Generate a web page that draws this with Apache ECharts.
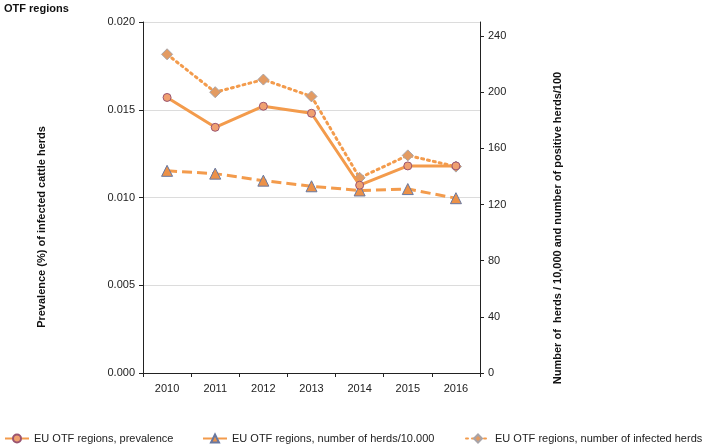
<!DOCTYPE html>
<html>
<head>
<meta charset="utf-8">
<script src="https://cdn.jsdelivr.net/npm/echarts@6/dist/echarts.min.js"></script>
<style>
body{margin:0;background:#fff}
#chart{width:709px;height:447px}
</style>
</head>
<body>
<div id="chart"></div>
<script>
let years = ["2010","2011","2012","2013","2014","2015","2016"]

// prevalence (%), left axis
let prevalence = [0.0157, 0.0140, 0.0152, 0.0148, 0.0107, 0.0118, 0.0118]
// herds / 10.000, right axis
let herds = [144, 142, 137, 133, 130, 131, 124.5]
// infected herds / 100, right axis
let infected = [227, 200, 209, 197, 139, 155, 147]

let leftTicks = [0, 0.020, 0.005]
let rightTicks = [0, 250, 40]

let seriesNames = [
    "EU OTF regions, prevalence",
    "EU OTF regions, number of herds/10.000",
    "EU OTF regions, number of infected herds"
]

let orange = "#F39B4C"
let fontFam = "Liberation Sans, Arial, sans-serif"
let txt = "#222"

let chart = echarts.init(document.getElementById("chart"), null, {renderer: "canvas"})

function legendAt(x, name){
    return {
        left: x,
        top: 428,
        itemWidth: 24,
        itemHeight: 10,
        itemGap: 4,
        textStyle: {fontFamily: fontFam, fontSize: 11, color: txt},
        data: [name]
    }
}

chart.setOption({
    backgroundColor: "#fff",
    animation: false,
    textStyle: {fontFamily: fontFam},
    grid: {left: 143, right: 229, top: 22, bottom: 74},
    legend: [
        legendAt(-1, seriesNames[0]),
        legendAt(197, seriesNames[1]),
        legendAt(460, seriesNames[2])
    ],
    graphic: [
        {type: "text", left: 4, top: 3,
         style: {text: "OTF regions", font: "bold 11px " + fontFam, fill: "#111"}},
        {type: "text", x: 42, y: 227, rotation: Math.PI/2,
         style: {text: "Prevalence (%) of infected cattle herds", font: "bold 11px " + fontFam,
                 fill: "#111", align: "center", verticalAlign: "middle"}},
        {type: "text", x: 558, y: 228, rotation: Math.PI/2,
         style: {text: "Number of  herds / 10,000 and number of positive herds/100", font: "bold 11px " + fontFam,
                 fill: "#111", align: "center", verticalAlign: "middle"}}
    ],
    xAxis: {
        type: "category",
        data: years,
        boundaryGap: true,
        axisLine: {lineStyle: {color: "#222", width: 1}},
        axisTick: {show: true, length: 4, lineStyle: {color: "#222"}},
        axisLabel: {color: txt, fontSize: 11, margin: 10}
    },
    yAxis: [
        {
            type: "value",
            min: leftTicks[0], max: leftTicks[1], interval: leftTicks[2],
            axisLine: {show: true, lineStyle: {color: "#222"}},
            axisTick: {show: true, length: 4, lineStyle: {color: "#222"}},
            axisLabel: {color: txt, fontSize: 11, margin: 8,
                formatter: function(v){ return v.toFixed(3) }},
            splitLine: {lineStyle: {color: "#dcdcdc"}}
        },
        {
            type: "value",
            position: "right",
            min: rightTicks[0], max: rightTicks[1], interval: rightTicks[2],
            axisLine: {show: true, lineStyle: {color: "#222"}},
            axisTick: {show: true, length: 4, lineStyle: {color: "#222"}},
            axisLabel: {color: txt, fontSize: 11, margin: 8, showMaxLabel: false},
            splitLine: {show: false}
        }
    ],
    series: [
        {
            name: seriesNames[0],
            type: "line",
            yAxisIndex: 0,
            data: prevalence,
            symbol: "circle",
            symbolSize: 8,
            lineStyle: {color: orange, width: 3},
            itemStyle: {color: "#F0A070", borderColor: "#9A5470", borderWidth: 1},
            z: 3
        },
        {
            name: seriesNames[1],
            type: "line",
            yAxisIndex: 1,
            data: herds,
            symbol: "triangle",
            symbolSize: 11,
            lineStyle: {color: orange, width: 3, type: [10, 5]},
            itemStyle: {color: "#EC9148", borderColor: "#6878A0", borderWidth: 1},
            z: 2
        },
        {
            name: seriesNames[2],
            type: "line",
            yAxisIndex: 1,
            data: infected,
            symbol: "diamond",
            symbolSize: 11,
            lineStyle: {color: orange, width: 3, type: [2, 4], cap: "round"},
            itemStyle: {color: "#E39B62", borderColor: "#A8A4A8", borderWidth: 1},
            z: 1
        }
    ]
})
</script>
</body>
</html>
